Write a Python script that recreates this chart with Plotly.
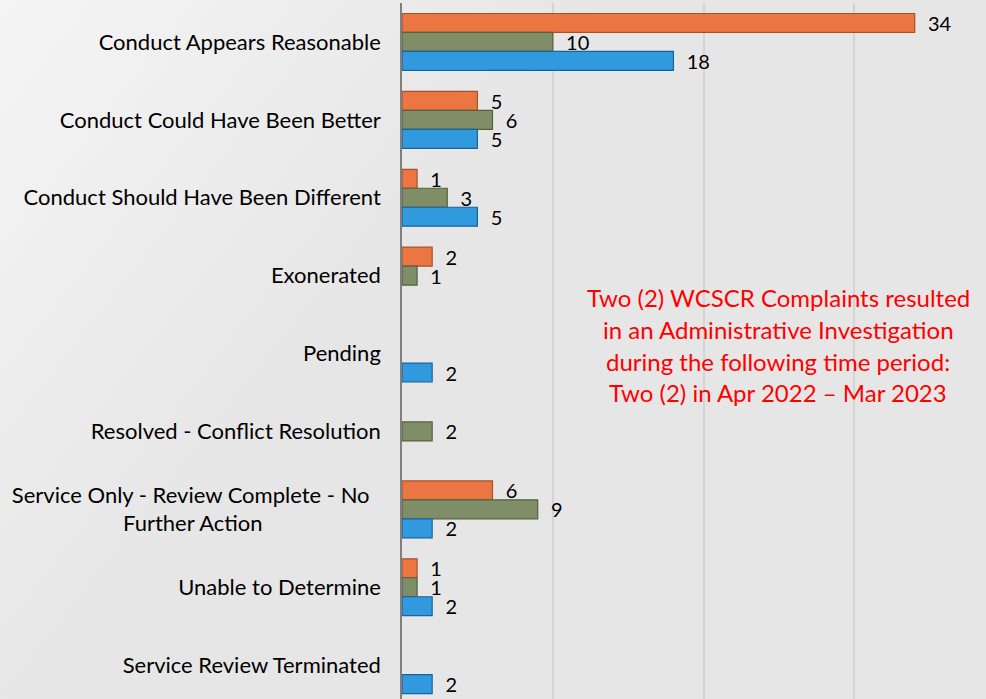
import base64
import plotly.graph_objects as go

categories = [
    "Conduct Appears Reasonable",
    "Conduct Could Have Been Better",
    "Conduct Should Have Been Different",
    "Exonerated",
    "Pending",
    "Resolved - Conflict Resolution",
    "Service Only - Review Complete - No\u00a0\u00a0<br>Further Action" + "\u00a0" * 21,
    "Unable to Determine",
    "Service Review Terminated",
]
series_orange = [34, 5, 1, 2, None, None, 6, 1, None]
series_green = [10, 6, 3, 1, None, 2, 9, 1, None]
series_blue = [18, 5, 5, None, 2, None, 2, 2, 2]

note_lines = [
    "Two (2) WCSCR Complaints resulted",
    "in an Administrative Investigation",
    "during the following time period:",
    "Two (2) in Apr 2022 \u2013 Mar 2023",
]

FONT = "Lato, 'Open Sans', sans-serif"
W, H = 986, 699
L, T = 402, 3
PX_PER_UNIT = 15.08
BAND = 77.9

styles = [
    ("orange", series_orange, "#EC7642", "#A9502A"),
    ("green", series_green, "#808E67", "#55603F"),
    ("blue", series_blue, "#3199DD", "#1B6299"),
]

fig = go.Figure()
for name, vals, fill, edge in styles:
    fig.add_trace(go.Bar(
        y=categories, x=vals, orientation="h", name=name,
        marker=dict(color=fill, line=dict(color=edge, width=1.2)),
        text=[("\u00a0\u00a0" + str(v)) if v is not None else "" for v in vals],
        textposition="outside", cliponaxis=False, constraintext="none",
        textfont=dict(family=FONT, size=20, color="#000000"),
        hoverinfo="skip",
    ))

plot_h = H - T
n_bands = plot_h / BAND
xmax = (W - L) / PX_PER_UNIT

svg = f'''<svg xmlns="http://www.w3.org/2000/svg" width="{W}" height="{H}">
<defs><linearGradient id="g" x1="0" y1="0" x2="{W*0.38}" y2="{H*0.42}" gradientUnits="userSpaceOnUse">
<stop offset="0" stop-color="#F5F5F5"/><stop offset="1" stop-color="#E6E6E6"/></linearGradient></defs>
<rect width="{W}" height="{H}" fill="url(#g)"/></svg>'''
src = "data:image/svg+xml;base64," + base64.b64encode(svg.encode()).decode()

plot_w = W - L
fig.add_layout_image(dict(
    source=src, xref="paper", yref="paper",
    x=-L / plot_w, y=1 + T / plot_h, sizex=W / plot_w, sizey=H / plot_h,
    xanchor="left", yanchor="top", sizing="stretch", layer="below",
))

for i, line in enumerate(note_lines):
    fig.add_annotation(
        text=line, xref="x", yref="paper", x=(778 - L) / PX_PER_UNIT,
        y=1 - (297 + 32 * i - T) / plot_h, xanchor="center", yanchor="middle",
        showarrow=False, font=dict(family=FONT, size=24, color="#FF0000"),
    )

fig.update_layout(
    width=W, height=H, margin=dict(l=L, r=0, t=T, b=0, pad=0),
    paper_bgcolor="#E6E6E6", plot_bgcolor="rgba(0,0,0,0)",
    barmode="group", bargap=0.27, bargroupgap=0, showlegend=False,
    font=dict(family=FONT, size=22, color="#000000"),
)
fig.update_xaxes(range=[0, xmax], dtick=10, showticklabels=False, showgrid=True,
                 gridcolor="#D4D4D4", gridwidth=1.5, zeroline=False, showline=False)
fig.update_yaxes(range=[-0.5 + n_bands, -0.5], showgrid=False, showline=True,
                 linecolor="#7F7F7F", linewidth=1.5, ticks="", ticklabelstandoff=15,
                 tickfont=dict(family=FONT, size=22, color="#000000"))

fig.write_html("out.html", config={"displayModeBar": False},
               post_script="document.body.style.margin='0';document.body.style.padding='0';")
